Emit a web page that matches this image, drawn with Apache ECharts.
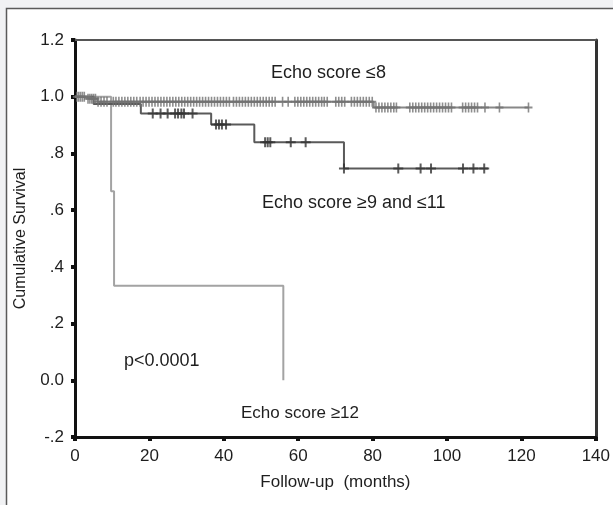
<!DOCTYPE html>
<html><head><meta charset="utf-8">
<script src="https://cdn.jsdelivr.net/npm/echarts@6/dist/echarts.min.js"></script>
<style>html,body{margin:0;padding:0;background:#f1f2f4;}#c{width:613px;height:505px;}</style>
</head><body><div id="c"></div>
<script>
// Kaplan-Meier step curves: [month, cumulative survival]
const curveLow = [[0,1.0],[3,0.993],[6,0.982],[80.3,0.962],[122,0.962]];            // Echo score <=8
const curveMid = [[0,1.0],[5,0.974],[17.7,0.941],[36.6,0.902],[48.2,0.839],[72.3,0.747],[111,0.747]]; // 9-11
const curveHigh = [[0,1.0],[9.7,0.667],[10.5,0.333],[56,0.333],[56,0.0]];            // >=12

// censored observation times (months)
const censorLow = [0.5,1,1.5,2,2.5,3.5,4,4.5,5,5.5,6.2,7,7.8,8.6,
  10.3,11,11.8,12.6,13.4,14.2,15,15.8,16.6,
  17.5,18.3,19.1,19.9,20.7,21.5,22.3,23.1,23.9,24.7,25.5,26.3,27.1,27.9,28.7,29.5,30.3,31.1,31.9,32.7,33.5,
  34.3,35.1,35.9,36.7,37.5,38.3,39.1,39.9,40.7,41.5,
  42.6,43.4,44.2,45,45.8,46.6,47.4,48.2,49,49.8,50.6,51.4,52.2,53,53.8,
  55.8,57.3,
  59.1,59.9,60.7,61.5,62.3,63.1,63.9,64.7,65.5,66.3,67,67.8,
  70.1,70.9,71.7,72.5,
  74.3,75.1,75.9,76.7,77.5,78.3,79.1,79.9,
  80.9,81.7,82.5,83.3,84.1,84.9,85.7,86.4,
  90,90.8,91.6,92.4,93.2,94,94.8,95.6,96.4,97.2,98,
  98.8,99.6,100.4,101.2,
  104.2,105,105.8,106.6,107.4,108.2,
  110.2,114.1,121.9];
const censorMid = [20.9,23,24.9,26.9,27.7,28.6,29.3,31.6,
  37.9,38.7,39.5,40.6,
  51.1,51.8,52.5,58,62,
  72.3,86.9,92.9,95.7,104.3,107.1,110];

const yTickLabels = {'1.2':'1.2','1':'1.0','0.8':'.8','0.6':'.6','0.4':'.4','0.2':'.2','0':'0.0','-0.2':'-.2'};

function survAt(curve, t){
  let v = curve[0][1];
  for (const p of curve){ if (p[0] <= t) v = p[1]; }
  return v;
}
const plus = 'path://M4,0H6V4H10V6H6V10H4V6H0V4H4Z';
const FONT = '"Liberation Sans", Arial, sans-serif';

const chart = echarts.init(document.getElementById('c'), null, {renderer:'canvas'});
chart.setOption({
  backgroundColor: '#f1f2f4',
  animation: false,
  graphic: [
    {type:'rect', z:-10, shape:{x:6.5,y:8.5,width:700,height:600}, style:{fill:'#ffffff', stroke:'#5a5a5a', lineWidth:1.5}},
    {type:'text', left:271, top:64, style:{text:'Echo score ≤8', font:'18px '+FONT, fill:'#1e1e1e'}},
    {type:'text', left:262, top:194, style:{text:'Echo score ≥9 and ≤11', font:'18px '+FONT, fill:'#1e1e1e'}},
    {type:'text', left:124, top:352, style:{text:'p<0.0001', font:'18px '+FONT, fill:'#1e1e1e'}},
    {type:'text', left:241, top:405, style:{text:'Echo score ≥12', font:'17px '+FONT, fill:'#1e1e1e'}}
  ],
  grid: {left:75, right:16, top:40, bottom:68, containLabel:false},
  xAxis: [{
    type:'value', min:0, max:140, interval:20,
    name:'Follow-up  (months)', nameLocation:'middle', nameGap:37,
    nameTextStyle:{fontFamily:FONT, fontSize:17, color:'#1e1e1e'},
    axisLine:{show:true, onZero:false, lineStyle:{color:'#111', width:3}},
    axisTick:{show:true, length:4, lineStyle:{color:'#111', width:4}},
    axisLabel:{fontFamily:FONT, fontSize:17, color:'#1e1e1e', margin:11},
    splitLine:{show:false}
  },{
    type:'value', position:'top', min:0, max:140,
    axisLine:{show:true, onZero:false, lineStyle:{color:'#555', width:2}},
    axisTick:{show:false}, axisLabel:{show:false}, splitLine:{show:false}
  }],
  yAxis: [{
    type:'value', min:-0.2, max:1.2, interval:0.2,
    name:'Cumulative Survival', nameLocation:'middle', nameGap:46,
    nameTextStyle:{fontFamily:FONT, fontSize:16, color:'#1e1e1e'},
    axisLine:{show:true, onZero:false, lineStyle:{color:'#111', width:3}},
    axisTick:{show:true, length:4, lineStyle:{color:'#111', width:4}},
    axisLabel:{fontFamily:FONT, fontSize:17, color:'#1e1e1e', margin:11,
      formatter: v => yTickLabels[String(Math.round(v*10)/10)] ?? ''},
    splitLine:{show:false}
  },{
    type:'value', position:'right', min:-0.2, max:1.2,
    axisLine:{show:true, onZero:false, lineStyle:{color:'#333', width:3}},
    axisTick:{show:false}, axisLabel:{show:false}, splitLine:{show:false}
  }],
  series: [
    {type:'line', step:'end', data:curveHigh, showSymbol:false, lineStyle:{color:'#a3a3a3', width:2}, z:2},
    {type:'line', step:'end', data:curveMid, showSymbol:false, lineStyle:{color:'#5a5a5a', width:2}, z:3},
    {type:'line', step:'end', data:curveLow, showSymbol:false, lineStyle:{color:'#888888', width:2}, z:4},
    {type:'scatter', data:censorMid.map(t=>[t, survAt(curveMid,t)]), symbol:plus, symbolSize:[10,10],
      itemStyle:{color:'#333333'}, z:5},
    {type:'scatter', data:censorLow.map(t=>[t, survAt(curveLow,t)]), symbol:plus, symbolSize:[8,10],
      itemStyle:{color:'#727272'}, z:6}
  ]
});
</script></body></html>
